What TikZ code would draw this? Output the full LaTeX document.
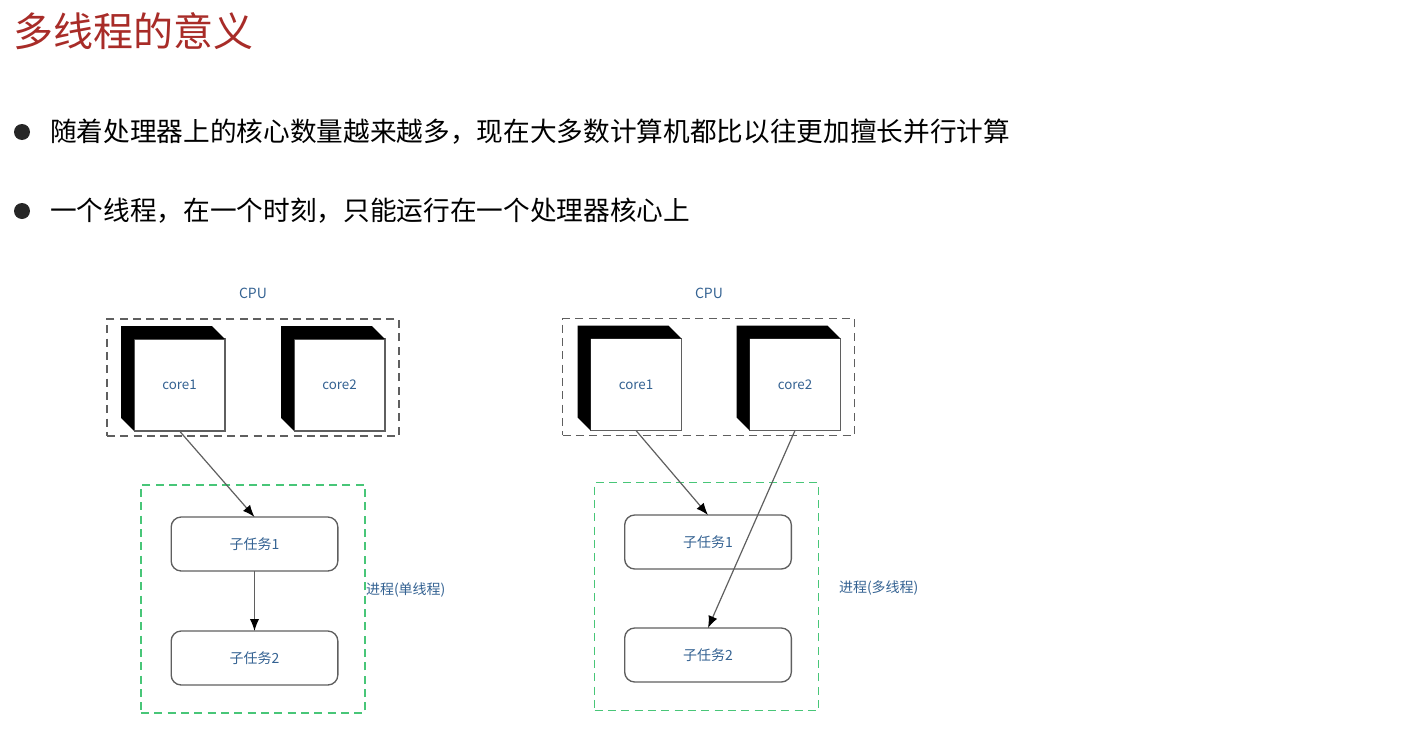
\documentclass[tikz,border=0pt]{standalone}
\usepackage{fontspec}
\setmainfont{Noto Sans CJK SC}
\usetikzlibrary{positioning,arrows.meta}
\definecolor{titlered}{RGB}{168,44,40}
\definecolor{labelblue}{RGB}{52,98,146}
\definecolor{dashgreen}{RGB}{72,198,120}
\definecolor{linegray}{RGB}{95,95,95}

\begin{document}
\begin{tikzpicture}[x=0.75pt,y=-0.75pt]
\tikzstyle{every node}=[inner sep=0pt,outer sep=0pt]
\tikzstyle{cpubox}=[draw=linegray,line width=1.2pt,dash pattern=on 6pt off 4pt,minimum width=219pt,minimum height=87.5pt]
\tikzstyle{procbox}=[draw=dashgreen,line width=1.2pt,dash pattern=on 6pt off 4pt,minimum width=168pt,minimum height=171pt]
\tikzstyle{corebox}=[draw=linegray,line width=1pt,fill=white,minimum width=68pt,minimum height=69pt,text=labelblue,font=\fontsize{10}{12}\selectfont]
\tikzstyle{taskbox}=[draw=linegray,line width=1pt,rounded corners=7.5pt,minimum width=125pt,minimum height=40.5pt,text=labelblue,font=\fontsize{10.5}{12}\selectfont]
\tikzstyle{small}=[text=labelblue,font=\fontsize{10.5}{12}\selectfont]
\tikzstyle{link}=[draw=linegray,line width=0.9pt,-{Latex[length=9pt,width=7pt,fill=black,color=black]}]
\useasboundingbox (0,0) rectangle (1410,746);

% title and bullets
\node[anchor=west,text=titlered,font=\fontsize{30}{34}\selectfont] (title) at (13,31) {多线程的意义};
\node[circle,fill=black!85,minimum size=12pt] (b1) at (22,132) {};
\node[anchor=west,font=\fontsize{20}{24}\selectfont] (t1) at (50,132) {随着处理器上的核心数量越来越多，现在大多数计算机都比以往更加擅长并行计算};
\node[circle,fill=black!85,minimum size=12pt] (b2) at (22,211) {};
\node[anchor=west,font=\fontsize{20}{24}\selectfont] (t2) at (50,211) {一个线程，在一个时刻，只能运行在一个处理器核心上};

% single thread
\node[small] (lcpu) at (253,293) {CPU};
\node[cpubox] (lbox) at (253,377.5) {};
\node[corebox] (lc1) at (179.5,385) {core1};
\node[corebox] (lc2) at (339.5,385) {core2};
\node[procbox] (lproc) at (253,599) {};
\node[taskbox] (lt1) at (254.5,544) {子任务1};
\node[taskbox] (lt2) at (254.5,658) {子任务2};
\node[small,anchor=west] (lname) at (366,590) {进程(单线程)};

% multi thread
\node[small] (rcpu) at (709,293) {CPU};
\node[cpubox] (rbox) at (708.5,377) {};
\node[corebox] (rc1) at (636,384.5) {core1};
\node[corebox] (rc2) at (795,384.5) {core2};
\node[procbox] (rproc) at (706.5,596.5) {};
\node[taskbox] (rt1) at (708,542) {子任务1};
\node[taskbox] (rt2) at (708,655) {子任务2};
\node[small,anchor=west] (rname) at (839,588) {进程(多线程)};

% cube sides
\foreach \c in {lc1,lc2,rc1,rc2}
  \fill[black] (\c.south west) -- ([shift={(-9.75pt,9.75pt)}]\c.south west)
    -- ([shift={(-9.75pt,9.75pt)}]\c.north west) -- ([shift={(-9.75pt,9.75pt)}]\c.north east)
    -- (\c.north east) -- (\c.north west) -- cycle;

\draw[link] (lc1.south) -- (lt1.north);
\draw[link] (lt1.south) -- (lt2.north);
\draw[link] (rc1.south) -- (rt1.north);
\draw[link] (rc2.south) -- (rt2.north);
\end{tikzpicture}
\end{document}
